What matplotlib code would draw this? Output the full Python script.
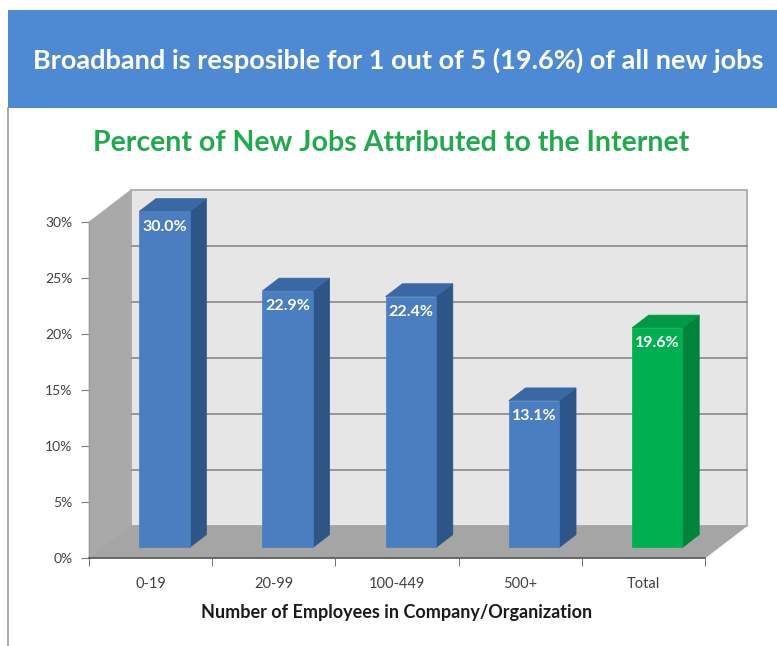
import numpy as np
import matplotlib.pyplot as plt
from matplotlib.patches import Polygon, Rectangle

categories = ['0-19', '20-99', '100-449', '500+', 'Total']
values = [30.0, 22.9, 22.4, 13.1, 19.6]
labels = ['30.0%', '22.9%', '22.4%', '13.1%', '19.6%']
yticks = [0, 5, 10, 15, 20, 25, 30]

banner_text = 'Broadband is resposible for 1 out of 5 (19.6%) of all new jobs'
chart_title = 'Percent of New Jobs Attributed to the Internet'
xlabel = 'Number of Employees in Company/Organization'

# 3d look: depth vector in data units
ddx, ddy = 0.34, 2.86
d0, d1 = 0.33, 0.73
hw = 0.205

W, H = 777, 646
fig = plt.figure(figsize=(W / 100, H / 100), dpi=100)
fig.patch.set_facecolor('white')

# banner
fig.patches.append(Rectangle((8 / W, 1 - 108 / H), 1, 98 / H, transform=fig.transFigure,
                             facecolor='#4D8AD3', edgecolor='none', zorder=0))
fig.lines.append(plt.Line2D([8 / W, 8 / W], [0, 1 - 108 / H], transform=fig.transFigure,
                            color='#9A9A9A', lw=1.2))
fig.text(398 / W, 1 - 60 / H, banner_text, color='white', fontsize=19.5,
         fontweight='bold', family='Lato', ha='center', va='center')
fig.text(391 / W, 1 - 143 / H, chart_title, color='#1FAA4C', fontsize=20.5,
         fontweight='bold', family='Lato', ha='center', va='center')

ax = fig.add_axes([89 / W, 1 - 558 / H, 616 / W, 336 / H])
ax.set_xlim(-0.5, 4.5)
ax.set_ylim(0, 30)
ax.patch.set_alpha(0)

x0, x1, ytop = -0.5, 4.5, 30

# back wall
ax.add_patch(Polygon([(x0 + ddx, ddy), (x1 + ddx, ddy), (x1 + ddx, ytop + ddy), (x0 + ddx, ytop + ddy)],
                     closed=True, facecolor='#E6E6E6', edgecolor='#A6A6A6', lw=1.2, clip_on=False, zorder=1))
for v in yticks[1:-1]:
    ax.plot([x0 + ddx, x1 + ddx], [v + ddy, v + ddy], color='#8E8E8E', lw=1.3, clip_on=False, zorder=2)
# left wall
ax.add_patch(Polygon([(x0, 0), (x0, ytop), (x0 + ddx, ytop + ddy), (x0 + ddx, ddy)],
                     closed=True, facecolor='#A9A9A9', edgecolor='#A9A9A9', lw=0.5, clip_on=False, zorder=2))
# floor
ax.add_patch(Polygon([(x0, 0), (x1, 0), (x1 + ddx, ddy), (x0 + ddx, ddy)],
                     closed=True, facecolor='#A5A5A5', edgecolor='#A5A5A5', lw=0.5, clip_on=False, zorder=2))

# bars
for i, (v, lab) in enumerate(zip(values, labels)):
    if categories[i] == 'Total':
        front, side, top = '#00B050', '#00843C', '#009A46'
    else:
        front, side, top = '#4A7EC0', '#2D5588', '#3A68A5'
    ox0, oy0 = d0 * ddx, d0 * ddy
    ox1, oy1 = d1 * ddx, d1 * ddy
    left, right = i - hw, i + hw
    ax.add_patch(Polygon([(right + ox0, oy0), (right + ox1, oy1), (right + ox1, v + oy1), (right + ox0, v + oy0)],
                         closed=True, facecolor=side, edgecolor=side, lw=0.5, clip_on=False, zorder=3))
    ax.add_patch(Polygon([(left + ox0, v + oy0), (right + ox0, v + oy0), (right + ox1, v + oy1), (left + ox1, v + oy1)],
                         closed=True, facecolor=top, edgecolor=top, lw=0.5, clip_on=False, zorder=3))
    ax.add_patch(Rectangle((left + ox0, oy0), 2 * hw, v, facecolor=front, edgecolor=front,
                           lw=0.5, clip_on=False, zorder=4))
    ax.text(i + ox0, v + oy0 - 0.75, lab, color='white', fontsize=11.5, fontweight='bold',
            family='Lato', ha='center', va='top', zorder=5)

for s in ['top', 'right']:
    ax.spines[s].set_visible(False)
ax.spines['left'].set_color('#9A9A9A')
ax.spines['bottom'].set_color('#595959')
ax.spines['bottom'].set_linewidth(1.2)
ax.spines['bottom'].set_zorder(6)

ax.set_yticks(yticks)
ax.set_yticklabels([f'{v}%' for v in yticks], family='Lato', fontsize=10, color='#404040')
ax.set_xticks(range(len(categories)))
ax.set_xticklabels(categories, family='Lato', fontsize=10.5, color='#404040')
ax.tick_params(axis='x', which='major', length=0, pad=14)
ax.set_xticks(np.arange(-0.5, 5, 1), minor=True)
ax.tick_params(axis='x', which='minor', length=6, color='#595959', direction='out')
ax.tick_params(axis='y', length=6, color='#808080', pad=6)
ax.set_xlabel(xlabel, family='Lato', fontsize=13, fontweight='bold', color='#1A1A1A', labelpad=9)

fig.savefig('out.png', dpi=100)
